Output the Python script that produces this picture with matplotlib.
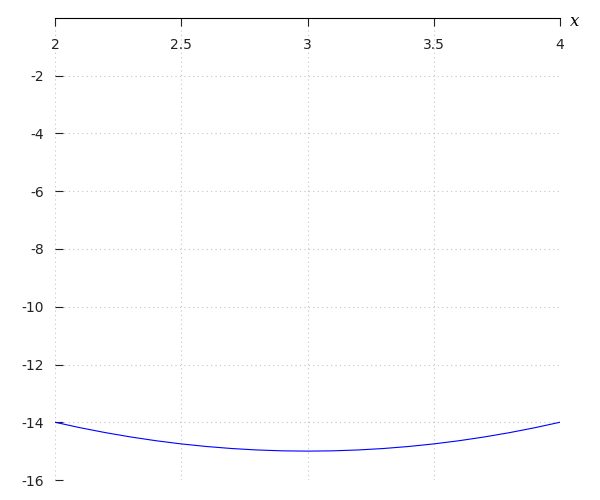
import matplotlib
matplotlib.use('Agg')
import matplotlib.pyplot as plt

# values
xs = [2.0, 2.1, 2.2, 2.3, 2.4, 2.5, 2.6, 2.7, 2.8, 2.9, 3.0,
      3.1, 3.2, 3.3, 3.4, 3.5, 3.6, 3.7, 3.8, 3.9, 4.0]
ys = [-14.0, -14.19, -14.36, -14.51, -14.64, -14.75, -14.84, -14.91, -14.96, -14.99, -15.0,
      -14.99, -14.96, -14.91, -14.84, -14.75, -14.64, -14.51, -14.36, -14.19, -14.0]

xticks = [2, 2.5, 3, 3.5, 4]
xticklabels = ['2', '2.5', '3', '3.5', '4']
yticks = [-16, -14, -12, -10, -8, -6, -4, -2]
yticklabels = ['-16', '-14', '-12', '-10', '-8', '-6', '-4', '-2']

fig = plt.figure(figsize=(6, 5), dpi=100)
ax = fig.add_axes([55/600, 20/500, 505/600, 462/500])

ax.plot(xs, ys, color='blue', lw=0.8)

ax.set_xlim(2, 4)
ax.set_ylim(-16, 0)

ax.set_xticks(xticks)
ax.set_xticklabels(xticklabels)
ax.set_yticks(yticks)
ax.set_yticklabels(yticklabels)

# x axis sits at y = 0 (top of the plot)
ax.spines['bottom'].set_position(('data', 0))
ax.spines['bottom'].set_color('black')
for s in ['top', 'right', 'left']:
	ax.spines[s].set_visible(False)

ax.tick_params(axis='x', direction='out', length=5.5, width=0.8, pad=9, labelsize=10, colors='#222222')
ax.tick_params(axis='y', direction='in', length=6, width=0.8, pad=8, labelsize=10, colors='#222222')

ax.grid(True, color='#c4c4c4', linestyle=(0, (1, 3)), lw=0.8)
ax.set_axisbelow(True)

fig.text(570/600, 1 - 22/500, 'x', family='serif', style='italic', fontsize=12, va='center', ha='left')

plt.savefig('out.png')
